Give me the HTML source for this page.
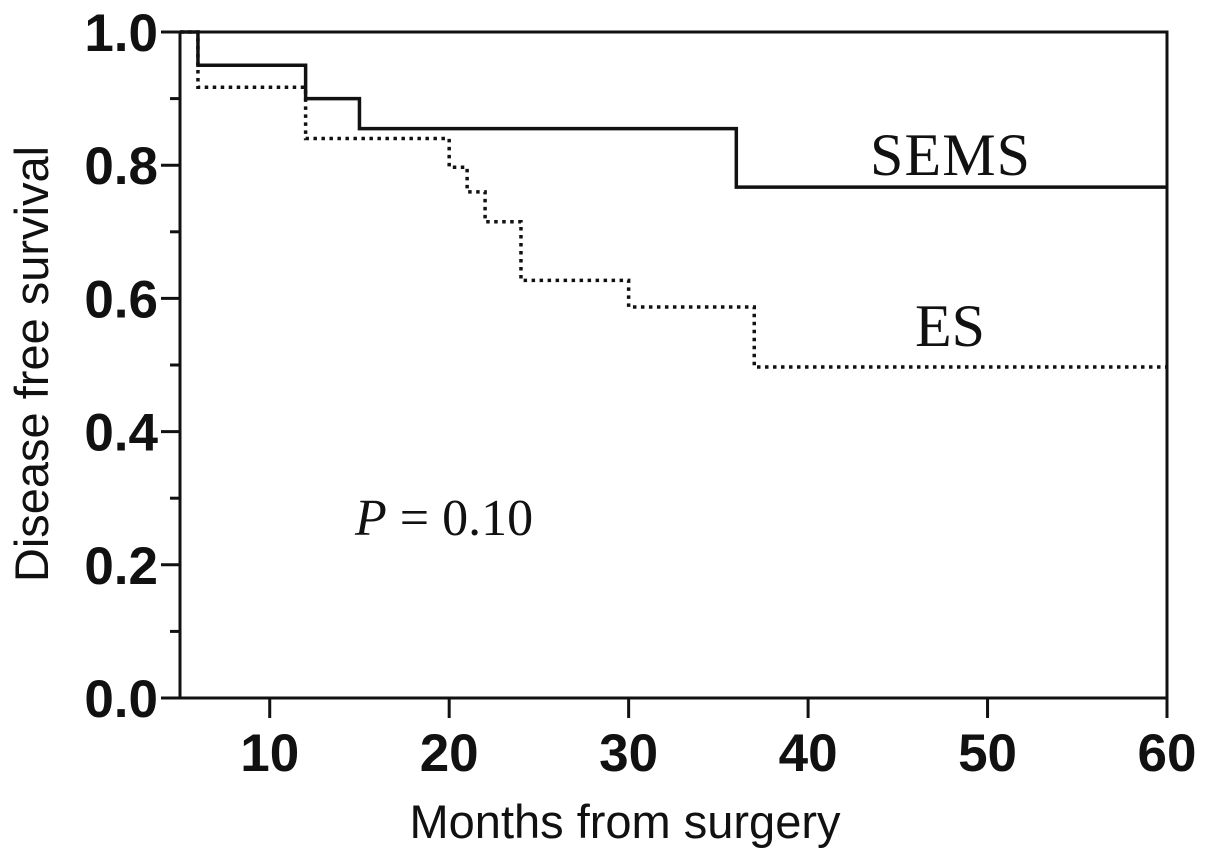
<!DOCTYPE html>
<html><head><meta charset="utf-8"><style>
html,body{margin:0;padding:0;background:#fff;}
svg{display:block;}
</style></head><body>
<svg id="chart" width="1205" height="856" viewBox="0 0 1205 856" xmlns="http://www.w3.org/2000/svg">
</svg>
<script>
const xTicks=[10,20,30,40,50,60];
const yTicks=[0.0,0.2,0.4,0.6,0.8,1.0];
const yTickLabels=["0.0","0.2","0.4","0.6","0.8","1.0"];
const semsTimes=[5,6,12,15,36,60];
const semsValues=[1.0,0.95,0.90,0.855,0.767,0.767];
const esTimes=[5,6,12,20,21,22,24,30,37,60];
const esValues=[1.0,0.917,0.84,0.797,0.76,0.715,0.627,0.587,0.497,0.497];

const L=180,R=1167,T=32,B=698,X0=5,X1=60;
const sx=v=>L+(v-X0)/(X1-X0)*(R-L);
const sy=v=>B-v*(B-T);
const NS="http://www.w3.org/2000/svg";
const svg=document.getElementById('chart');
function mk(tag,attrs,parent){const e=document.createElementNS(NS,tag);for(const k in attrs)e.setAttribute(k,attrs[k]);(parent||svg).appendChild(e);return e;}

const frame=mk('rect',{x:L,y:T,width:R-L,height:B-T,fill:'none',stroke:'#111','stroke-width':3});



for(let i=0;i<=10;i++){
  const v=i/10, major=i%2===0;
  const t=mk('line',{x1:L-(major?19:10),x2:L,y1:sy(v),y2:sy(v),stroke:'#111','stroke-width':3});
  
  
}
yTicks.forEach((v,i)=>{
  const t=mk('text',{x:158,y:sy(v)+19,'text-anchor':'end','font-family':'Liberation Sans, sans-serif','font-weight':'bold','font-size':53,fill:'#111'});
  t.textContent=yTickLabels[i];
  
  
});
xTicks.forEach(v=>{
  const t=mk('line',{x1:sx(v),x2:sx(v),y1:B,y2:B+20,stroke:'#111','stroke-width':3});
  
  
  const l=mk('text',{x:sx(v),y:771,'text-anchor':'middle','font-family':'Liberation Sans, sans-serif','font-weight':'bold','font-size':53,fill:'#111'});
  l.textContent=String(v);
  
  
});

function stepPath(ts,vs){
  let d='M'+sx(ts[0])+','+sy(vs[0]);
  for(let i=1;i<ts.length;i++){d+=' H'+sx(ts[i])+' V'+sy(vs[i]);}
  return d;
}
const es=mk('path',{d:stepPath(esTimes,esValues),fill:'none',stroke:'#111','stroke-width':3.5,'stroke-dasharray':'3.5,4.5'});


const sems=mk('path',{d:stepPath(semsTimes,semsValues),fill:'none',stroke:'#111','stroke-width':3.5});



function txt(s,attrs,name){const t=mk('text',attrs);t.textContent=s;return t;}
txt('SEMS',{x:870,y:175,'font-family':'Liberation Serif, serif','font-size':60,textLength:160,fill:'#111'},'sems-label');
txt('ES',{x:915,y:346,'font-family':'Liberation Serif, serif','font-size':60,fill:'#111'},'es-label');
const p=txt('',{x:355,y:535,'font-family':'Liberation Serif, serif','font-size':52,fill:'#111'},'p-value-label');
p.innerHTML='<tspan font-style="italic">P</tspan> = 0.10';
txt('Months from surgery',{x:625,y:838,'text-anchor':'middle','font-family':'Liberation Sans, sans-serif','font-size':47,fill:'#111'},'x-axis-title');
txt('Disease free survival',{x:0,y:0,transform:'translate(48,364) rotate(-90)','text-anchor':'middle','font-family':'Liberation Sans, sans-serif','font-size':47,fill:'#111'},'y-axis-title');
</script>
</body></html>
